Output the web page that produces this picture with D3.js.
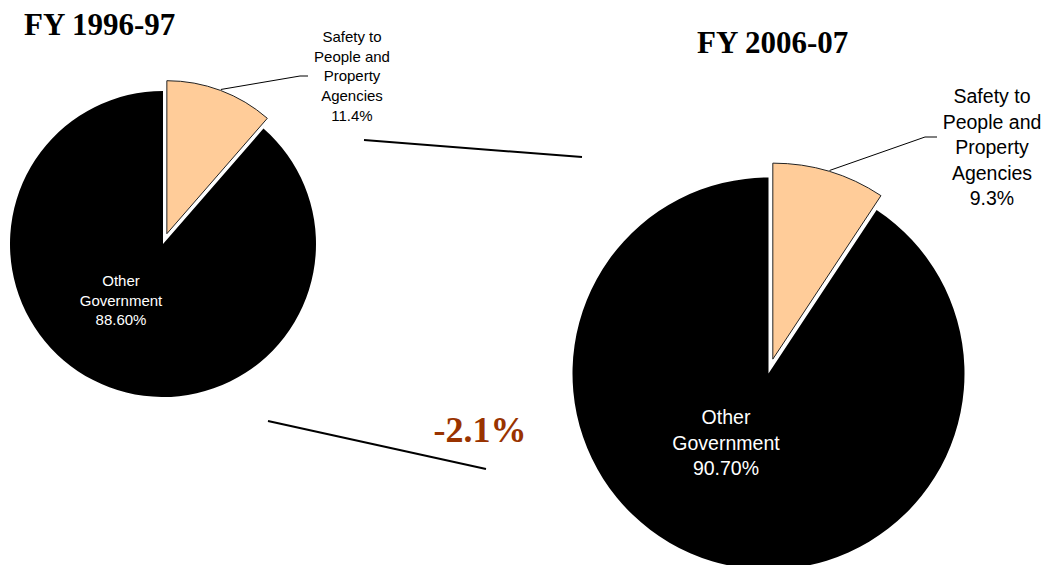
<!DOCTYPE html>
<html>
<head>
<meta charset="utf-8">
<script src="https://cdn.jsdelivr.net/npm/d3@7"></script>
<style>
  html, body { margin: 0; padding: 0; background: #fff; }
  svg { display: block; }
</style>
</head>
<body>
<svg id="chart" width="1045" height="565"></svg>
<script>
// ---- data ----
const years = ["FY 1996-97", "FY 2006-07"];
const categories = ["Safety to People and Property Agencies", "Other Government"];
const labelLines = [["Safety to", "People and", "Property", "Agencies"], ["Other", "Government"]];
const values1996 = [11.4, 88.6];
const values2006 = [9.3, 90.7];
const valueLabels1996 = ["11.4%", "88.60%"];
const valueLabels2006 = ["9.3%", "90.70%"];
const colors = ["#FFCC99", "#000000"];

// ---- layout ----
const svg = d3.select("#chart");
const pies = [
  { year: years[0], values: values1996, vlabels: valueLabels1996, cx: 163, cy: 244, r: 153, explode: 11,
    titleX: 24, titleY: 35, font: 15, lh: 19.7,
    safetyLabel: { x: 352, y: 42 }, leaderEnd: [300, 76], leaderTail: 8,
    otherLabel: { x: 121, y: 286 } },
  { year: years[1], values: values2006, vlabels: valueLabels2006, cx: 768.5, cy: 373.5, r: 196, explode: 15,
    titleX: 697, titleY: 53, font: 19.5, lh: 25.6,
    safetyLabel: { x: 992, y: 103 }, leaderEnd: [925, 137], leaderTail: 12,
    otherLabel: { x: 726, y: 424 } }
];

const pieGen = d3.pie().sort(null).value(d => d).startAngle(0).endAngle(2 * Math.PI);

pies.forEach(p => {
  const arcs = pieGen(p.values);
  const arc = d3.arc().innerRadius(0).outerRadius(p.r);
  const g = svg.append("g").attr("transform", `translate(${p.cx},${p.cy})`);

  // black slice first, then the exploded slice
  const other = arcs[1];
  g.append("path").attr("d", arc(other)).attr("fill", colors[1]).attr("stroke", "none");

  const s = arcs[0];
  const mid = (s.startAngle + s.endAngle) / 2;
  const ox = Math.sin(mid) * p.explode, oy = -Math.cos(mid) * p.explode;
  const sg = g.append("g").attr("transform", `translate(${ox},${oy})`);
  sg.append("path").attr("d", arc(s)).attr("fill", colors[0])
    .attr("stroke", "#222").attr("stroke-width", 1).attr("stroke-linejoin", "miter");

  // leader line from slice arc midpoint to label
  const sx = p.cx + ox + Math.sin(mid) * (p.r + 1);
  const sy = p.cy + oy - Math.cos(mid) * (p.r + 1);
  svg.append("polyline")
    .attr("points", [[sx, sy], p.leaderEnd, [p.leaderEnd[0] + p.leaderTail, p.leaderEnd[1]]].map(d => d.join(",")).join(" "))
    .attr("fill", "none").attr("stroke", "#000").attr("stroke-width", 1);

  // safety label
  const t1 = svg.append("text").attr("text-anchor", "middle")
    .attr("font-family", "Liberation Sans, Arial, sans-serif").attr("font-size", p.font).attr("fill", "#000");
  labelLines[0].concat([p.vlabels[0]]).forEach((line, i) => {
    t1.append("tspan").attr("x", p.safetyLabel.x).attr("y", p.safetyLabel.y + i * p.lh).text(line);
  });

  // other label (white, inside)
  const t2 = svg.append("text").attr("text-anchor", "middle")
    .attr("font-family", "Liberation Sans, Arial, sans-serif").attr("font-size", p.font).attr("fill", "#fff");
  labelLines[1].concat([p.vlabels[1]]).forEach((line, i) => {
    t2.append("tspan").attr("x", p.otherLabel.x).attr("y", p.otherLabel.y + i * p.lh).text(line);
  });

  // title
  svg.append("text").attr("x", p.titleX).attr("y", p.titleY)
    .attr("font-family", "Liberation Serif, Times New Roman, serif").attr("font-weight", "bold")
    .attr("font-size", 31).attr("fill", "#000").text(p.year);
});

// connector lines between the two pies
const connectors = [[[364, 140], [582, 157]], [[268, 421], [486, 469]]];
connectors.forEach(c => {
  svg.append("line").attr("x1", c[0][0]).attr("y1", c[0][1]).attr("x2", c[1][0]).attr("y2", c[1][1])
    .attr("stroke", "#000").attr("stroke-width", 2);
});

// change label (plain hyphen-minus as in the reference)
const change = values2006[0] - values1996[0];
svg.append("text").attr("x", 480).attr("y", 442).attr("text-anchor", "middle")
  .attr("font-family", "Liberation Serif, Times New Roman, serif").attr("font-weight", "bold")
  .attr("font-size", 36).attr("fill", "#993300")
  .text(change.toFixed(1) + "%");
</script>
</body>
</html>
